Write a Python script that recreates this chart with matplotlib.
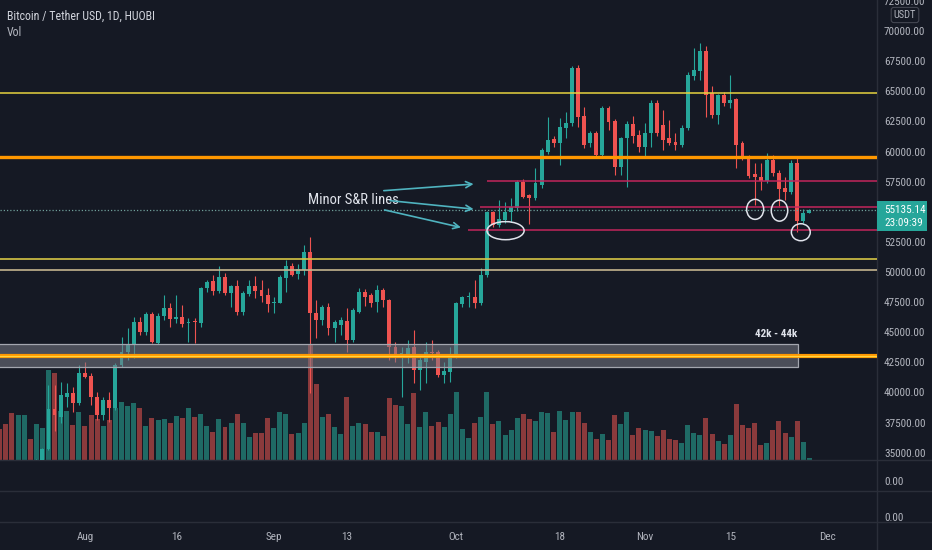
import numpy as np
import pandas as pd
import matplotlib
matplotlib.use('Agg')
import matplotlib.pyplot as plt
import matplotlib.dates as mdates
from matplotlib.patches import Rectangle, Ellipse
from matplotlib.lines import Line2D
from matplotlib.transforms import blended_transform_factory
from matplotlib import font_manager

# ---------------- data (BTC/USDT daily, Huobi) ----------------
dates = pd.date_range('2021-07-18', '2021-11-28', freq='D')

opens = [31800, 31400, 30800, 29800, 32100, 32300, 32200, 34300, 35300, 38650,
         38000, 39650, 39930, 39100,
         41590, 41370, 39650, 38130, 39380, 38690, 42280, 43390, 43940, 45880,
         45050, 46490, 44140, 46350, 46990, 46070, 46290, 45740, 45960, 45740,
         48650, 49250, 48420, 49560, 48230, 48840, 46710, 48170, 48840, 48510, 48060,
         47400, 47460, 49480, 50530, 49830, 50170, 51630, 46630, 46020, 47120,
         45330, 45600, 45930, 44360, 46710, 48370, 48090, 47540, 48510, 47680,
         43800, 42980, 43110, 43800, 41870, 42560, 43390, 43390, 41450, 41730,
         43110, 47350, 47900, 47900, 47400, 49750, 55010, 53900, 54320, 55010,
         55280, 57500, 56390, 56110, 57220, 59990, 61010, 60680, 61920, 62340,
         66900, 62950, 60680, 61510, 59710, 63580, 62560, 58740, 61090, 62280, 61370,
         60400, 61510, 64050, 62200, 61090, 60820, 60540, 61920, 66290, 66700,
         68370, 64830, 63030, 64690, 64050, 64330, 60680, 59570, 58100, 57910,
         57550, 59290, 58240, 56940, 56670, 59070, 54260, 54920]
highs = [32400, 31900, 31000, 32800, 32600, 33600, 34500, 35400, 40600, 40600,
         40900, 40760, 40480, 42280,
         42560, 41590, 40070, 39650, 40070, 42420, 44630, 45330, 46290, 46290,
         46710, 46710, 46570, 48090, 47400, 48090, 47260, 46160, 46160, 48780,
         49340, 49750, 50530, 49890, 48920, 49340, 48450, 49340, 49670, 49340, 48650,
         47900, 49750, 51000, 50720, 50640, 52240, 52930, 47680, 47260, 47400,
         46020, 46290, 46990, 47000, 48650, 48560, 48230, 48920, 48650, 47800,
         44220, 43800, 44360, 45190, 43110, 44220, 44360, 43530, 42560, 43800,
         47500, 48000, 48370, 49340, 50300, 55100, 55100, 55980, 55840, 56110,
         57630, 57700, 56500, 58600, 60300, 62840, 61300, 62750, 63310, 67100,
         67200, 63720, 61700, 61700, 63800, 63800, 62670, 61180, 62560, 62950, 61780,
         62390, 64270, 64300, 63440, 62600, 61510, 62200, 66600, 68560, 68980,
         68760, 65440, 64770, 64900, 66350, 64400, 60900, 59700, 59020, 59020,
         59900, 59700, 58460, 57910, 59300, 59430, 55230, 55230]
lows = [31100, 30400, 29300, 29500, 31700, 32000, 32000, 33900, 35200, 36800,
        37440, 38820, 38410, 38960,
        41180, 38960, 37720, 37720, 37580, 38550, 42140, 42700, 42840, 44770,
        44770, 44080, 44020, 46020, 45460, 45740, 45460, 44220, 44080, 45460,
        48370, 48090, 48290, 48090, 47120, 46430, 46430, 48010, 47820, 47540, 46710,
        46570, 47400, 48370, 49670, 49390, 49750, 39930, 44500, 45600, 44770,
        44220, 44770, 43390, 44220, 46570, 47210, 47120, 46710, 47120, 42700,
        42560, 39660, 42420, 40760, 40210, 40820, 42700, 41320, 40820, 40900,
        42900, 47120, 47120, 46990, 47300, 49600, 53760, 53760, 54040, 54180,
        55100, 56110, 54000, 56000, 57000, 59800, 60400, 58880, 61090, 62100,
        62060, 60300, 60400, 59500, 59500, 61780, 58050, 58050, 57080, 60730, 59990,
        59570, 60400, 61300, 60120, 60540, 60120, 60400, 61800, 65930, 65930,
        62890, 62750, 62280, 63800, 63580, 58600, 59300, 57800, 55560, 56800,
        57400, 58000, 55420, 55970, 56500, 53350, 54040, 54900]
closes = [31400, 30800, 29800, 32100, 32300, 32200, 34300, 35300, 38650, 38130,
          39790, 39930, 39100, 41590,
          41310, 39650, 38130, 39380, 38690, 42280, 43390, 43940, 45880, 45050,
          46490, 44220, 46380, 46990, 46070, 46290, 45690, 45800, 45880, 48700,
          49200, 48420, 49560, 48230, 48840, 46710, 48230, 48840, 48420, 48010, 47350,
          47540, 49560, 50530, 49750, 50220, 51630, 46570, 46020, 47120, 45330,
          45880, 46020, 44360, 46850, 48370, 47950, 47400, 48510, 47680, 43800,
          42980, 43310, 43670, 41870, 42700, 43390, 43250, 41450, 41810, 43110,
          47400, 47950, 47960, 47400, 49750, 55010, 53900, 54370, 55010, 55370,
          57500, 56250, 56110, 57360, 60120, 60950, 60730, 62060, 62340, 66900,
          62890, 60540, 61510, 59710, 63580, 62480, 58740, 61090, 62280, 61290, 60400,
          61560, 64050, 61510, 60950, 60730, 60540, 61980, 66350, 66760, 68370,
          64690, 63030, 64690, 64050, 64270, 60540, 59570, 57970, 57860, 57550,
          59290, 58190, 56860, 56670, 59070, 54260, 54920, 55135.14]
volume = [30.7, 36, 46.7, 45, 45, 20.7, 36, 31.7,
          90, 87, 49, 49, 35, 48,
          34, 45, 40.7, 34, 40, 51.7, 58.3, 54, 56.7, 51.7,
          34, 41.7, 40, 40.7, 36.7, 44, 41.7, 51.7, 42.7, 46,
          34, 28, 40.7, 32.7, 36.7, 46, 36.7, 22.7, 26.7, 26.7, 41.7,
          32.3, 47.7, 46, 26, 26.7, 36.7, 115, 76, 42.7, 45.7,
          32.7, 26, 62.7, 34, 36.7, 36, 28, 28, 24, 61.7,
          55, 54, 36, 66.7, 32.7, 47.7, 34, 38.3, 32.7, 46,
          68.3, 30.7, 21.7, 36.7, 42.7, 67.7, 36, 38.7, 25, 30,
          41.7, 46, 40.7, 38.7, 47.7, 46.7, 28, 48.7, 40, 47.7,
          47.7, 37.3, 28, 20.7, 26, 20, 45, 36, 47.7, 25, 31.7,
          30, 28.7, 24, 30, 20.7, 20, 16.7, 35, 27.3, 25,
          42, 26, 19, 16, 25, 56, 35, 31.7, 36.7, 15,
          16.7, 30, 38.7, 27.3, 22.7, 38.7, 18, 1.7]

# drawn levels
yellow_top = 64880
orange_top = 59570
yellow_mid = [51080, 50170]
orange_low = 43050
zone = (42100, 44000)
minor_levels = [57550, 55400, 53500]
minor_start = ['2021-10-06 00:00', '2021-10-04 21:00', '2021-10-02 22:00']
lows_marked = [('2021-10-09 02:00', 53430, 6.1, 1500), ('2021-11-19 02:00', 55200, 2.8, 1660),
               ('2021-11-23 02:00', 55090, 2.7, 1740), ('2021-11-26 14:00', 53300, 3.1, 1410)]

price_ticks = [p for p in range(35000, 72501, 2500) if p != 55000]   # 55000 sits under the last-price tag
month_ticks = ['2021-08-01', '2021-08-16', '2021-09-01', '2021-09-13', '2021-10-01',
               '2021-10-18', '2021-11-01', '2021-11-15', '2021-12-01']
month_labels = ['Aug', '16', 'Sep', '13', 'Oct', '18', 'Nov', '15', 'Dec']

# ---------------- style ----------------
_names = {f.name for f in font_manager.fontManager.ttflist}
FONT, FS = 'Liberation Sans', 0.85
for cand in ('Liberation Sans Narrow', 'Roboto Condensed', 'Open Sans Condensed'):
    if cand in _names:
        FONT, FS = cand, 1.0
        break
plt.rcParams['font.family'] = [FONT, 'DejaVu Sans']

BG = '#151924'
GRID = '#2a2e39'
TXT = '#b2b5be'
UP, DOWN = '#26a69a', '#ef5350'
VUP, VDOWN = '#1f6a65', '#8a3a3c'
PINK = '#c2255c'

W, H = 932, 550
AX_R, AX_B = 877, 460


def rect(x0, y0, x1, y1):
    return [x0 / W, 1 - y1 / H, (x1 - x0) / W, (y1 - y0) / H]


x = mdates.date2num(dates)
o, h, l, c = map(np.array, (opens, highs, lows, closes))
up = c >= o

aug1 = mdates.date2num(pd.Timestamp('2021-08-01'))
xlim = (aug1 - 13.96, aug1 + 130.1)
ylim = (34398, 72573)
pp = (ylim[1] - ylim[0]) / AX_B   # price per pixel

fig = plt.figure(figsize=(W / 100, H / 100), dpi=100, facecolor=BG)

ax_v = fig.add_axes(rect(0, 0, AX_R, AX_B))
ax = fig.add_axes(rect(0, 0, AX_R, AX_B), sharex=ax_v)
ax2 = fig.add_axes(rect(0, 460, AX_R, 491), sharex=ax_v)
ax3 = fig.add_axes(rect(0, 491, AX_R, 522), sharex=ax_v)
ax_v.set_zorder(1)
ax.set_zorder(2)
ax.patch.set_visible(False)

for a in (ax_v, ax, ax2, ax3):
    a.set_facecolor(BG)
    for s in a.spines.values():
        s.set_visible(False)
    a.tick_params(length=0, labelbottom=False, labelleft=False)

# volume
ax_v.bar(x, volume, width=0.82, color=np.where(up, VUP, VDOWN), zorder=1)
ax_v.set_ylim(0, max(volume) * 4.0)
ax_v.set_yticks([])

# candles
cols = np.where(up, UP, DOWN)
ax.vlines(x, l, h, colors=cols, lw=0.8, zorder=3)
body = np.maximum(np.abs(c - o), pp)
ax.bar(x, body, bottom=np.minimum(o, c), width=0.64, color=cols, zorder=3, linewidth=0)

ax.set_xlim(*xlim)
ax.set_ylim(*ylim)

# levels
ax.axhline(yellow_top, color='#e6d33f', lw=1.1, zorder=4)
ax.axhline(orange_top, color='#ff9800', lw=2.4, zorder=4)
ax.axhline(yellow_mid[0], color='#d6c545', lw=1.2, zorder=4)
ax.axhline(yellow_mid[1], color='#c4b48e', lw=1.2, zorder=4)
zone_end = mdates.date2num(pd.Timestamp('2021-11-26 02:00'))
ax.add_patch(Rectangle((xlim[0] - 5, zone[0]), zone_end - xlim[0] + 5, zone[1] - zone[0],
                       facecolor='#787b86', alpha=0.55, edgecolor='none', zorder=4))
ax.add_patch(Rectangle((xlim[0] - 5, zone[0]), zone_end - xlim[0] + 5, zone[1] - zone[0],
                       facecolor='none', edgecolor='#a3a6af', lw=0.9, zorder=4))
ax.axhline(orange_low, color='#ff9800', lw=3.0, zorder=5)
ax.axhline(orange_low, color='#ffd740', lw=0.9, zorder=5)
ax.text(mdates.date2num(pd.Timestamp('2021-11-22 14:00')), 44850, '42k - 44k',
        color='#e0e3eb', fontsize=8 * FS, fontweight='bold', ha='center', va='center', zorder=6)

for lv, st in zip(minor_levels, minor_start):
    ax.hlines(lv, mdates.date2num(pd.Timestamp(st)), xlim[1] + 5, color=PINK, lw=1.1, zorder=4)

# last price dotted line
last = closes[-1]
ax.axhline(last, color='#6f9f9a', lw=0.9, ls=(0, (1, 1.6)), zorder=4)

# lows circled
for d, p, wd, ht in lows_marked:
    ax.add_patch(Ellipse((mdates.date2num(pd.Timestamp(d)), p), wd, ht, facecolor='none',
                         edgecolor='#e0e3eb', lw=1.1, zorder=6))

# annotation
ARW = '#4fb3bf'
ax.text(mdates.date2num(pd.Timestamp('2021-09-21 12:00')), 55980, 'Minor S&R lines',
        color='#e0e3eb', fontsize=10.5 * FS, ha='right', va='center', zorder=6)
arrows = [(('2021-09-19 02:00', 56750), ('2021-10-03 20:00', 57300)),
          (('2021-09-20 03:00', 55920), ('2021-10-03 20:00', 55220)),
          (('2021-09-19 05:00', 55150), ('2021-10-01 18:00', 53700))]
for (t0, p0), (t1, p1) in arrows:
    ax.annotate('', xy=(mdates.date2num(pd.Timestamp(t1)), p1),
                xytext=(mdates.date2num(pd.Timestamp(t0)), p0),
                arrowprops=dict(arrowstyle='->', color=ARW, lw=1.2, mutation_scale=11,
                                shrinkA=0, shrinkB=0), zorder=6)

# price axis
ax.yaxis.tick_right()
ax.set_yticks(price_ticks)
ax.yaxis.set_major_formatter(plt.FuncFormatter(lambda v, _: f'{v:.2f}'))
ax.tick_params(axis='y', labelright=True, labelsize=8 * FS, labelcolor=TXT, pad=5)

tr = blended_transform_factory(ax.transAxes, ax.transData)
ax.add_patch(Rectangle((1.0, last - 21 * pp), 50 / AX_R, 30 * pp, transform=tr,
                       facecolor=UP, edgecolor='none', clip_on=False, zorder=10))
ax.text(1 + 7 / AX_R, last, f'{last:.2f}', transform=tr, color='white', fontsize=8 * FS,
        va='center', ha='left', zorder=11, clip_on=False)
ax.text(1 + 7 / AX_R, last - 13 * pp, '23:09:39', transform=tr, color='white', fontsize=8 * FS,
        va='center', ha='left', zorder=11, clip_on=False)

# empty lower panes
for a, zero_frac in ((ax2, 0.32), (ax3, 0.16)):
    a.set_ylim(-zero_frac, 1 - zero_frac)
    a.yaxis.tick_right()
    a.set_yticks([0])
    a.set_yticklabels(['0.00'])
    a.tick_params(axis='y', labelright=True, labelsize=8 * FS, labelcolor=TXT, pad=5)

ax3.set_xticks(mdates.date2num(pd.to_datetime(month_ticks)))
ax3.set_xticklabels(month_labels)
ax3.tick_params(axis='x', labelbottom=True, labelsize=8 * FS, labelcolor=TXT, pad=7)
ax3.set_xlim(*xlim)

# separators
for yy in (460, 491, 522):
    fig.add_artist(Line2D([0, 1], [1 - yy / H] * 2, color=GRID, lw=1))
fig.add_artist(Line2D([AX_R / W] * 2, [0, 1], color=GRID, lw=1))

# header / legend
fig.text(7 / W, 1 - 16 / H, 'Bitcoin / Tether USD, 1D, HUOBI', color='#d1d4dc',
         fontsize=8.6 * FS, va='center', ha='left')
fig.text(7 / W, 1 - 32 / H, 'Vol', color=TXT, fontsize=8.6 * FS, va='center', ha='left')
fig.text(905 / W, 1 - 15 / H, 'USDT', color=TXT, fontsize=7.5 * FS, va='center', ha='center',
         bbox=dict(boxstyle='round,pad=0.25', facecolor=BG, edgecolor='#434651', lw=0.8))

fig.savefig('out.png', dpi=100, facecolor=BG)
